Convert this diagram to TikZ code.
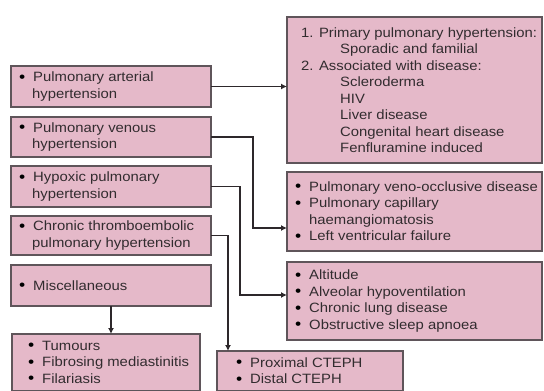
\documentclass[tikz,border=0pt]{standalone}
\usepackage{fontspec}
\setmainfont{Liberation Sans}[FakeStretch=1.1]
\usetikzlibrary{arrows.meta}
\definecolor{boxfill}{RGB}{229,185,201}
\definecolor{boxline}{RGB}{95,85,90}
\definecolor{arrline}{RGB}{45,40,43}
\definecolor{inkgray}{RGB}{50,44,47}
\newcommand{\bl}{\makebox[14pt][l]{\textcolor{black}{\fontsize{16}{16}\selectfont\raisebox{-0.6pt}{\textbullet}}}}
\newcommand{\ind}[1]{\hspace*{#1}}
\begin{document}
\begin{tikzpicture}[x=1pt,y=-1pt,
  box/.style={draw=boxline, fill=boxfill, line width=1.5pt, rectangle,
    anchor=north west, inner sep=0pt, outer sep=0pt},
  txt/.style={anchor=west, align=left, inner sep=0pt, text=inkgray,
    font=\fontsize{13.5}{16.5}\selectfont},
  arr/.style={draw=arrline, line width=1.6pt, -{Latex[length=6pt,width=6pt]}}]
\useasboundingbox (0,0) rectangle (544,391);

% left column: categories
\node[box, minimum width=200pt, minimum height=41pt] (b1) at (11,66) {};
\node[box, minimum width=200pt, minimum height=40pt] (b2) at (11,117) {};
\node[box, minimum width=200pt, minimum height=41pt] (b3) at (11,166) {};
\node[box, minimum width=200pt, minimum height=39pt] (b4) at (11,216) {};
\node[box, minimum width=200pt, minimum height=41pt] (b5) at (11,265) {};
\node[box, minimum width=188pt, minimum height=57pt] (b6) at (12,334) {};
\node[box, minimum width=186pt, minimum height=40pt] (b7) at (217,351) {};

% right column: causes
\node[box, minimum width=255pt, minimum height=146pt] (r1) at (287,17) {};
\node[box, minimum width=255pt, minimum height=79pt] (r2) at (287,172) {};
\node[box, minimum width=255pt, minimum height=78pt] (r3) at (287,262) {};

% texts
\node[txt] (t1) at ([xshift=8pt]b1.west) {\bl Pulmonary arterial\\\ind{13pt}hypertension};
\node[txt] (t2) at ([xshift=8pt]b2.west) {\bl Pulmonary venous\\\ind{13pt}hypertension};
\node[txt] (t3) at ([xshift=8pt]b3.west) {\bl Hypoxic pulmonary\\\ind{13pt}hypertension};
\node[txt] (t4) at ([xshift=8pt]b4.west) {\bl Chronic thromboembolic\\\ind{13pt}pulmonary hypertension};
\node[txt] (t5) at ([xshift=8pt]b5.west) {\bl Miscellaneous};
\node[txt] (t6) at ([xshift=16pt]b6.west) {\bl Tumours\\\bl Fibrosing mediastinitis\\\bl Filariasis};
\node[txt] (t7) at ([xshift=19pt]b7.west) {\bl Proximal CTEPH\\\bl Distal CTEPH};

\node[txt] (u1) at ([xshift=14pt]r1.west) {1. Primary pulmonary hypertension:\\
  \ind{39pt}Sporadic and familial\\
  2. Associated with disease:\\
  \ind{39pt}Scleroderma\\
  \ind{39pt}HIV\\
  \ind{39pt}Liver disease\\
  \ind{39pt}Congenital heart disease\\
  \ind{39pt}Fenfluramine induced};
\node[txt] (u2) at ([xshift=8pt]r2.west) {\bl Pulmonary veno-occlusive disease\\
  \bl Pulmonary capillary\\
  \ind{14pt}haemangiomatosis\\
  \bl Left ventricular failure};
\node[txt] (u3) at ([xshift=8pt]r3.west) {\bl Altitude\\
  \bl Alveolar hypoventilation\\
  \bl Chronic lung disease\\
  \bl Obstructive sleep apnoea};

% connectors
\coordinate (k2) at (253,228);
\coordinate (k3) at (240,295);
\coordinate (k4) at (228,0);
\draw[arr] (b1.east) -- (b1.east -| r1.west);
\draw[arr] (b2.east) -| (k2) -- (k2 -| r2.west);
\draw[arr] (b3.east) -| (k3) -- (k3 -| r3.west);
\draw[arr] (b4.east) -| (k4 |- b7.north);
\draw[arr] (b5.south) -- (b5.south |- b6.north);
\end{tikzpicture}
\end{document}
